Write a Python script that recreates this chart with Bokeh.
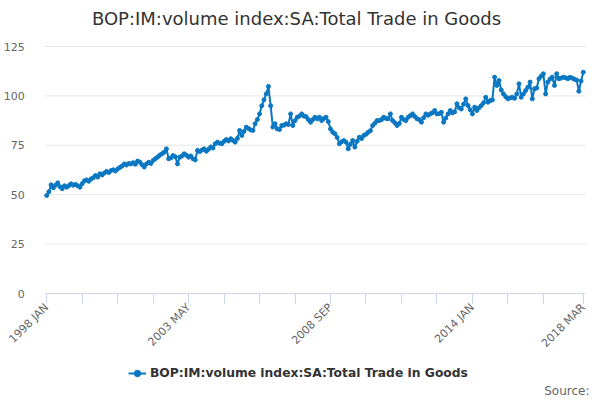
from bokeh.plotting import figure
from bokeh.models import Range1d, FixedTicker, Legend, LegendItem, Label
from bokeh.embed import file_html
from bokeh.resources import INLINE

# monthly values, 1998 JAN .. 2018 MAR
valores = [
    49.6, 51.5, 55.0, 53.5, 54.8, 56.0, 54.0, 53.0, 54.5, 53.8, 54.6, 55.5,   # 1998
    54.8, 55.2, 54.5, 53.8, 55.6, 57.0, 57.5, 56.8, 58.0, 58.6, 59.7, 58.9,   # 1999
    60.6, 60.0, 61.0, 61.8, 61.2, 62.2, 62.6, 62.0, 63.0, 63.8, 64.5, 65.6,   # 2000
    65.0, 65.8, 65.6, 66.2, 65.4, 67.0, 66.5, 65.2, 64.0, 65.6, 66.4, 65.8,   # 2001
    67.3, 68.2, 69.0, 70.0, 70.7, 71.5, 73.2, 68.2, 68.6, 69.8, 69.2, 65.6,   # 2002
    69.0, 69.6, 70.7, 70.0, 69.0, 69.6, 68.2, 67.6, 72.4, 71.8, 72.6, 73.2,   # 2003
    72.0, 73.0, 74.2, 73.6, 75.8, 76.6, 76.0, 75.8, 77.0, 77.9, 77.2, 78.3,   # 2004
    77.5, 76.6, 78.5, 82.5, 80.0, 82.0, 84.2, 83.5, 82.8, 82.5, 85.9, 88.0,   # 2005
    90.9, 95.0, 98.0, 101.0, 104.8, 95.0, 84.2, 85.9, 83.3, 83.0, 85.0, 85.2,  # 2006
    85.9, 85.5, 90.9, 85.0, 87.5, 89.2, 89.8, 90.9, 89.8, 89.5, 88.0, 86.7,   # 2007
    88.0, 89.2, 88.4, 89.2, 87.5, 88.6, 89.2, 87.0, 83.3, 81.6, 80.8, 79.0,   # 2008
    75.8, 76.8, 77.4, 76.6, 73.2, 75.5, 77.4, 74.1, 77.0, 79.1, 78.4, 80.0,   # 2009
    80.6, 81.6, 82.4, 85.0, 86.2, 87.5, 87.5, 88.0, 89.2, 88.6, 88.4, 90.9,   # 2010
    87.5, 86.4, 85.0, 86.0, 89.2, 88.0, 87.5, 89.2, 90.0, 90.9, 89.6, 88.4,   # 2011
    88.0, 86.7, 89.0, 90.9, 90.2, 90.9, 91.5, 92.6, 90.9, 91.0, 91.7, 86.7,   # 2012
    88.8, 90.9, 92.6, 91.4, 92.0, 96.0, 94.0, 93.4, 95.8, 98.5, 95.1, 93.0,   # 2013
    90.9, 94.3, 92.6, 94.0, 95.1, 96.5, 99.3, 96.8, 97.6, 98.0, 109.5, 105.3,  # 2014
    107.8, 103.0, 101.0, 99.6, 98.5, 99.0, 99.3, 98.8, 101.0, 106.1, 99.3, 101.0,  # 2015
    102.7, 104.4, 107.0, 98.5, 103.6, 104.0, 108.7, 110.0, 111.2, 101.0, 107.0, 108.5,  # 2016
    109.5, 105.3, 111.2, 108.7, 109.0, 109.5, 109.2, 108.7, 109.4, 109.0, 108.4, 108.0,  # 2017
    102.4, 107.5, 112.0,  # 2018
]
meses = list(range(len(valores)))

etiquetas_x = {0: "1998 JAN", 64: "2003 MAY", 128: "2008 SEP", 192: "2014 JAN", 242: "2018 MAR"}
ticks_x = [0, 16, 32, 48, 64, 80, 96, 112, 128, 144, 160, 176, 192, 208, 224, 242]
ticks_y = [0, 25, 50, 75, 100, 125]

serie = "BOP:IM:volume index:SA:Total Trade in Goods"
azul = "#0a77c2"
fuente = "DejaVu Sans"

# the frame fills the whole figure so that title, rotated labels, legend and
# source are not clipped; both axes are pinned inside it
p = figure(width=600, height=400, output_backend="svg", toolbar_location=None,
           x_range=Range1d(-20.83, 249.76), y_range=Range1d(-54.15, 148.28),
           min_border_left=0, min_border_right=0, min_border_top=0, min_border_bottom=0)
p.outline_line_color = None

titulo = Label(x=296, y=382, x_units="screen", y_units="screen", text=serie,
               text_align="center", text_baseline="middle", text_font=fuente,
               text_font_size="18px", text_color="#333333")
p.add_layout(titulo)

# grid lines only across the plotting area
p.xgrid.grid_line_color = None
p.ygrid.grid_line_color = None
inicio, fin = meses[0] - 0.9, meses[-1] + 1.2
p.segment(x0=[inicio] * len(ticks_y), y0=ticks_y, x1=[fin] * len(ticks_y), y1=ticks_y,
          line_color="#e6e6e6", line_width=1)

p.yaxis.fixed_location = inicio
p.yaxis.ticker = FixedTicker(ticks=ticks_y)
p.yaxis.axis_line_color = None
p.yaxis.major_tick_line_color = None
p.yaxis.minor_tick_line_color = None
p.yaxis.major_label_standoff = 14
p.yaxis.major_label_text_font = fuente
p.yaxis.major_label_text_font_size = "11px"
p.yaxis.major_label_text_color = "#666666"

p.xaxis.fixed_location = 0
p.xaxis.bounds = (meses[0], meses[-1] + 0.3)
p.xaxis.ticker = FixedTicker(ticks=ticks_x)
p.xaxis.major_label_overrides = {t: etiquetas_x.get(t, "") for t in ticks_x}
p.xaxis.major_label_orientation = 0.785398
p.xaxis.axis_line_color = "#ccd6eb"
p.xaxis.major_tick_line_color = "#ccd6eb"
p.xaxis.major_tick_out = 10
p.xaxis.major_tick_in = 0
p.xaxis.minor_tick_line_color = None
p.xaxis.major_label_standoff = 2
p.xaxis.major_label_text_font = fuente
p.xaxis.major_label_text_font_size = "11px"
p.xaxis.major_label_text_color = "#666666"

linea = p.line(meses, valores, line_color=azul, line_width=2)
puntos = p.scatter(meses, valores, size=4, color=azul)

leyenda = Legend(items=[LegendItem(label=serie, renderers=[linea, puntos])],
                 location=(128, 19), glyph_width=18, glyph_height=16, label_standoff=4,
                 padding=0, margin=0, border_line_color=None, background_fill_alpha=0,
                 label_text_font=fuente, label_text_font_size="12.3px",
                 label_text_font_style="bold", label_text_color="#333333")
p.add_layout(leyenda)

fuente_txt = Label(x=589, y=10, x_units="screen", y_units="screen", text="Source:",
                   text_align="right", text_baseline="middle", text_font=fuente,
                   text_font_size="12px", text_color="#666666")
p.add_layout(fuente_txt)

open("out.html", "w").write(file_html(p, INLINE))
